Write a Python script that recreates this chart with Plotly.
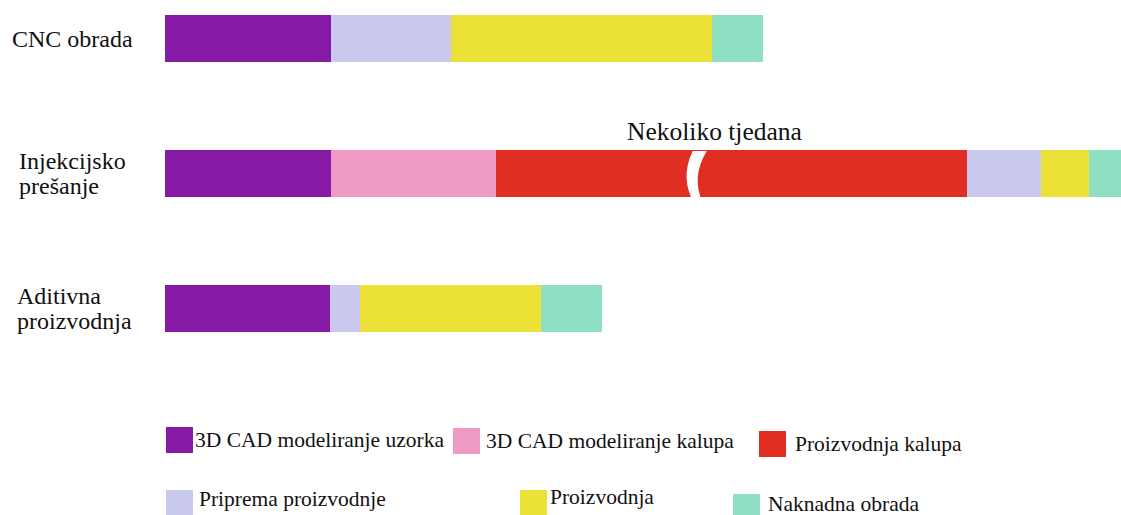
import plotly.graph_objects as go

W, H = 1121, 515

# ---- data ----
categories = ["CNC obrada", "Injekcijsko<br>prešanje", "Aditivna<br>proizvodnja"]
phases = ["3D CAD modeliranje uzorka", "3D CAD modeliranje kalupa", "Proizvodnja kalupa",
          "Priprema proizvodnje", "Proizvodnja", "Naknadna obrada"]
colors = ["#861AA6", "#F09BC3", "#E02F22", "#C9C8EE", "#ECE237", "#8FE0C3"]
# relative durations (arbitrary time units) per category
cad_uzorka = [166, 166, 165]
cad_kalupa = [0, 165, 0]
proizvodnja_kalupa = [0, 471, 0]
priprema = [120, 74, 30]
proizvodnja = [261, 48, 181]
naknadna = [51, 50, 61]
series = [cad_uzorka, cad_kalupa, proizvodnja_kalupa, priprema, proizvodnja, naknadna]
break_label = "Nekoliko tjedana"

FONT = "Liberation Serif"

fig = go.Figure()
for name, vals, col in zip(phases, series, colors):
    fig.add_trace(go.Bar(
        y=categories, x=[v if v else None for v in vals], name=name, orientation="h",
        marker=dict(color=col, line=dict(width=0)), width=0.348, showlegend=False,
        hoverinfo="x+name"))

def py(p):  # pixel y -> paper
    return 1 - p / H

def px(p):  # pixel x -> paper
    return p / W

# category labels (each line placed separately for tight line spacing)
label_x = [10, 17, 15]
for cat, lx in zip(categories, label_x):
    lines = cat.split("<br>")
    n = len(lines)
    for i, line in enumerate(lines):
        fig.add_annotation(x=px(lx), xref="paper", y=cat, yref="y", text=line,
                           xanchor="left", yanchor="middle", showarrow=False,
                           yshift=(n - 1) * 12.5 - i * 25,
                           font=dict(family=FONT, size=24, color="#111"))

# axis break in the long red segment (Injection moulding)
red_start = cad_uzorka[1] + cad_kalupa[1]
bx = red_start + 0.42 * proizvodnja_kalupa[1]
top, mid, bot = py(151), py(177), py(203)
path = (f"M {bx-1},{top} Q {bx-14},{mid} {bx},{bot} "
        f"L {bx+9},{bot} Q {bx-3},{mid} {bx+13},{top} Z")
fig.add_shape(type="path", path=path, xref="x", yref="paper",
              fillcolor="white", line=dict(width=0), layer="above")
fig.add_annotation(x=bx + 21, xref="x", y=py(131), yref="paper", text=break_label,
                   showarrow=False, xanchor="center", yanchor="middle",
                   font=dict(family=FONT, size=25.5, color="#111"))

# custom legend
legend_pos = [  # (square x0, square y0, text x, text y)
    (166, 427, 193, 440),
    (453, 428, 484, 441),
    (759, 431, 793, 444),
    (166, 490, 197, 499),
    (520, 490, 548, 497),
    (733, 494, 766, 504),
]
for (sx, sy, tx, ty), name, col in zip(legend_pos, phases, colors):
    fig.add_shape(type="rect", xref="paper", yref="paper",
                  x0=px(sx), x1=px(sx + 27), y0=py(sy), y1=py(min(sy + 26, H)),
                  fillcolor=col, line=dict(width=0))
    fig.add_annotation(x=px(tx), xref="paper", y=py(ty), yref="paper", text=name,
                       xanchor="left", yanchor="middle", showarrow=False,
                       font=dict(family=FONT, size=21.5, color="#111"))

fig.update_layout(
    width=W, height=H, barmode="stack",
    margin=dict(l=0, r=0, t=0, b=0),
    paper_bgcolor="white", plot_bgcolor="white",
    xaxis=dict(range=[-165, W - 165], visible=False, fixedrange=True),
    yaxis=dict(range=[3.527, -0.2876], visible=False, fixedrange=True),
)

fig.write_html("out.html", config={"displayModeBar": False},
               post_script="document.body.style.margin='0';document.body.style.overflow='hidden';")
